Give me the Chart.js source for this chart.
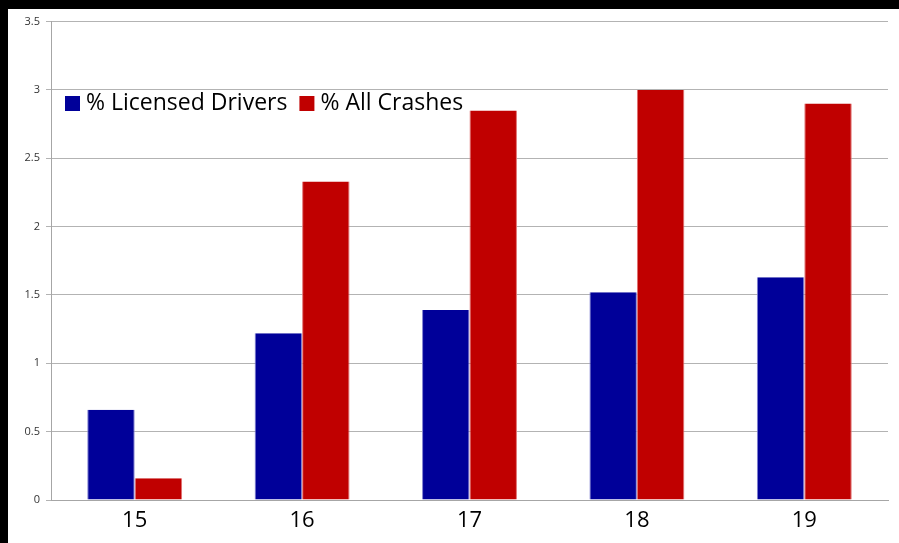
<!DOCTYPE html>
<html>
<head>
<meta charset="utf-8">
<script src="https://cdn.jsdelivr.net/npm/chart.js@4/dist/chart.umd.min.js"></script>
<style>
  html, body { margin: 0; padding: 0; background: #000; }
  #wrap { position: absolute; left: 8px; top: 9px; width: 891px; height: 534px; background: #fff; }
</style>
</head>
<body>
<div id="wrap"><canvas id="chart" width="891" height="534"></canvas></div>
<script>
var ages = ['15', '16', '17', '18', '19'];
var licensedDrivers = [0.66, 1.22, 1.39, 1.52, 1.63];
var allCrashes = [0.16, 2.33, 2.85, 3.0, 2.90];
var yTicks = [0, 0.5, 1, 1.5, 2, 2.5, 3, 3.5];

// legend drawn inside the plot, top left
var insideLegend = {
    id: 'insideLegend',
    afterDraw: function(chart) {
        var ctx = chart.ctx;
        var x = chart.chartArea.left + 14;
        var y = 94;
        ctx.save();
        ctx.font = '23px "Open Sans", sans-serif';
        ctx.textBaseline = 'middle';
        chart.data.datasets.forEach(function(ds) {
            ctx.fillStyle = ds.backgroundColor;
            ctx.fillRect(x, y - 7, 15, 15);
            x += 21;
            ctx.fillStyle = '#000';
            ctx.fillText(ds.label, x, y);
            x += ctx.measureText(ds.label).width + 12;
        });
        ctx.restore();
    }
};

new Chart(document.getElementById('chart'), {
    type: 'bar',
    data: {
        labels: ages,
        datasets: [{
            label: '% Licensed Drivers',
            data: licensedDrivers,
            backgroundColor: '#000099',
            borderColor: '#7f7fd0',
            borderWidth: { left: 1, right: 1, top: 0, bottom: 0 },
            categoryPercentage: 0.567,
            barPercentage: 1
        }, {
            label: '% All Crashes',
            data: allCrashes,
            backgroundColor: '#c00000',
            borderColor: '#e07070',
            borderWidth: { left: 1, right: 1, top: 0, bottom: 0 },
            categoryPercentage: 0.567,
            barPercentage: 1
        }]
    },
    options: {
        responsive: false,
        maintainAspectRatio: false,
        animation: false,
        layout: { padding: { top: 11, right: 11, left: 0, bottom: 0 } },
        scales: {
            x: {
                grid: { display: false },
                border: { color: '#a6a6a6', width: 1 },
                ticks: { color: '#000', font: { size: 22, family: '"Open Sans", sans-serif' }, padding: 0 },
                afterFit: function(s) { s.height = 43; }
            },
            y: {
                min: 0,
                max: 3.5,
                afterBuildTicks: function(s) {
                    s.ticks = yTicks.map(function(v) { return { value: v }; });
                },
                grid: { color: '#b3b3b3', tickLength: 5 },
                border: { color: '#a6a6a6' },
                ticks: {
                    color: '#333',
                    font: { size: 11, family: '"Open Sans", sans-serif' },
                    padding: 6,
                    callback: function(v) { return String(v); }
                },
                afterFit: function(s) { s.width = 43; }
            }
        },
        plugins: {
            legend: { display: false },
            tooltip: { enabled: false }
        }
    },
    plugins: [insideLegend]
});
</script>
</body>
</html>
